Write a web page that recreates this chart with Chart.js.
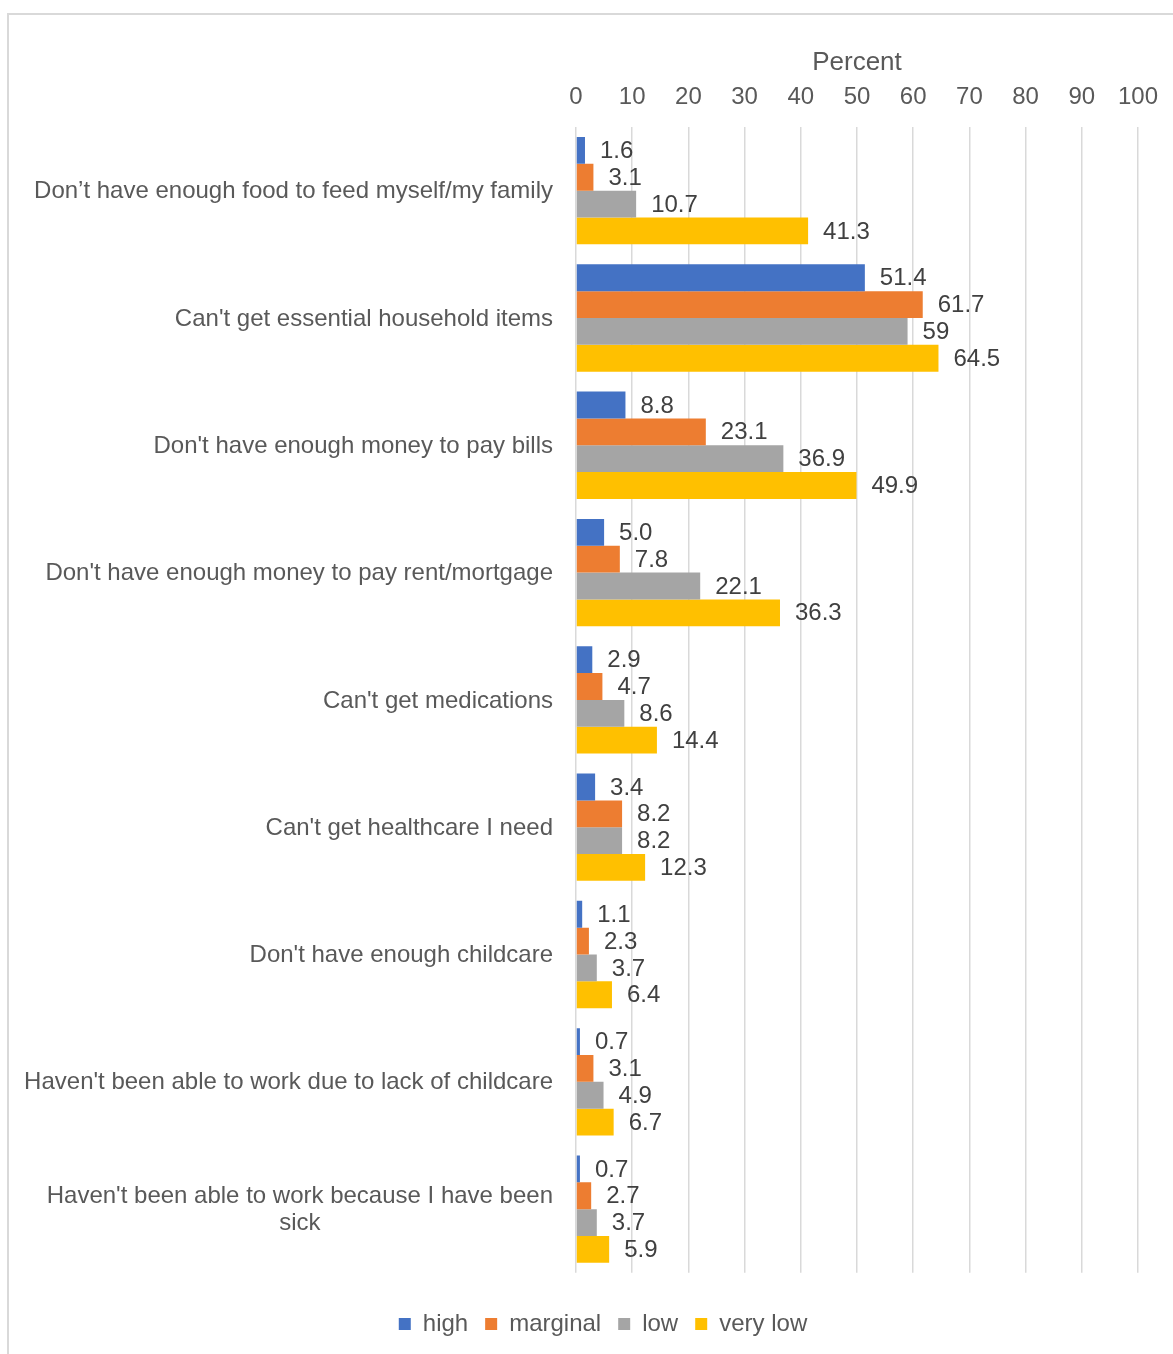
<!DOCTYPE html>
<html><head><meta charset="utf-8">
<script src="https://cdn.jsdelivr.net/npm/chart.js@4.4.1/dist/chart.umd.min.js"></script>
<style>html,body{margin:0;padding:0;background:#fff;}#wrap{position:relative;width:1173px;height:1354px;}</style>
</head><body><div id="wrap"><canvas id="c" width="1173" height="1354"></canvas></div>
<script>
const categories = [
  'Don’t have enough food to feed myself/my family',
  "Can't get essential household items",
  "Don't have enough money to pay bills",
  "Don't have enough money to pay rent/mortgage",
  "Can't get medications",
  "Can't get healthcare I need",
  "Don't have enough childcare",
  "Haven't been able to work due to lack of childcare",
  ["Haven't been able to work because I have been", "sick"]
];
const seriesNames = ['high', 'marginal', 'low', 'very low'];
const high     = ['1.6', '51.4', '8.8', '5.0', '2.9', '3.4', '1.1', '0.7', '0.7'];
const marginal = ['3.1', '61.7', '23.1', '7.8', '4.7', '8.2', '2.3', '3.1', '2.7'];
const low      = ['10.7', '59', '36.9', '22.1', '8.6', '8.2', '3.7', '4.9', '3.7'];
const veryLow  = ['41.3', '64.5', '49.9', '36.3', '14.4', '12.3', '6.4', '6.7', '5.9'];
const xMin = 0, xMax = 100, xStep = 10;
const axisTitle = 'Percent';

const colors = ['#4472C4', '#ED7D31', '#A5A5A5', '#FFC000'];
const FONT = "'Liberation Sans', Arial, sans-serif";
const series = [high, marginal, low, veryLow];

const framePlugin = {
  id: 'frame',
  beforeDraw(chart) {
    const ctx = chart.ctx;
    ctx.save();
    ctx.fillStyle = '#fff';
    ctx.fillRect(0, 0, chart.width, chart.height);
    ctx.strokeStyle = '#d9d9d9';
    ctx.lineWidth = 2;
    ctx.beginPath();
    ctx.moveTo(8, chart.height);
    ctx.lineTo(8, 14);
    ctx.lineTo(chart.width, 14);
    ctx.stroke();
    ctx.restore();
  }
};

const valueLabels = {
  id: 'valueLabels',
  afterDatasetsDraw(chart) {
    const ctx = chart.ctx;
    ctx.save();
    ctx.font = '24px ' + FONT;
    ctx.fillStyle = '#404040';
    ctx.textAlign = 'left';
    ctx.textBaseline = 'middle';
    chart.data.datasets.forEach((ds, di) => {
      const meta = chart.getDatasetMeta(di);
      meta.data.forEach((el, i) => {
        ctx.fillText(series[di][i], el.x + 15, el.y + 1);
      });
    });
    ctx.restore();
  }
};

const catLabels = {
  id: 'catLabels',
  afterDraw(chart) {
    const ctx = chart.ctx;
    const ys = chart.scales.y;
    ctx.save();
    ctx.font = '24px ' + FONT;
    ctx.fillStyle = '#595959';
    ctx.textAlign = 'center';
    ctx.textBaseline = 'middle';
    const right = chart.chartArea.left - 23;
    const lh = 27;
    categories.forEach((lab, i) => {
      const lines = Array.isArray(lab) ? lab : [lab];
      const w = Math.max(...lines.map(l => ctx.measureText(l).width));
      const yc = ys.getPixelForValue(i);
      lines.forEach((l, j) => {
        ctx.fillText(l, right - w / 2, yc + (j - (lines.length - 1) / 2) * lh + 1);
      });
    });
    ctx.restore();
  }
};

new Chart(document.getElementById('c'), {
  type: 'bar',
  data: {
    labels: categories,
    datasets: seriesNames.map((n, i) => ({
      label: n,
      data: series[i].map(Number),
      backgroundColor: colors[i],
      borderWidth: 0,
      categoryPercentage: 0.843,
      barPercentage: 1.0
    }))
  },
  options: {
    indexAxis: 'y',
    responsive: false,
    animation: false,
    devicePixelRatio: 1,
    layout: { padding: { left: 68, right: 35, top: 0, bottom: 8 } },
    scales: {
      x: {
        position: 'top',
        min: xMin, max: xMax,
        ticks: { stepSize: xStep, font: { size: 24, family: FONT }, color: '#595959', padding: 15 },
        grid: { color: '#d9d9d9', lineWidth: 1.5, drawTicks: false },
        border: { display: false },
        title: { display: true, text: axisTitle, font: { size: 26, family: FONT }, color: '#595959', padding: { top: 47, bottom: 0 } },
        afterFit(s) { s.height = 127; }
      },
      y: {
        ticks: { display: false },
        grid: { display: false },
        border: { display: false },
        afterFit(s) { s.width = 508; }
      }
    },
    plugins: {
      legend: {
        position: 'bottom',
        title: { display: true, text: '', font: { size: 1 }, padding: { top: 8, bottom: 13 } },
        labels: { boxWidth: 12, boxHeight: 12, padding: 17, color: '#595959', font: { size: 24, family: FONT } }
      },
      tooltip: { enabled: false }
    }
  },
  plugins: [framePlugin, valueLabels, catLabels]
});
</script></body></html>
